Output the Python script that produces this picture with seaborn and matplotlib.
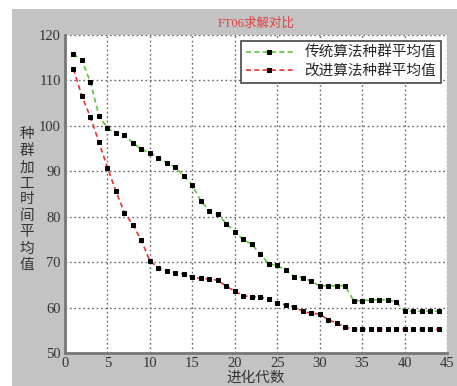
import numpy as np
import pandas as pd
import matplotlib
matplotlib.use("Agg")
import matplotlib.pyplot as plt
from matplotlib.patches import Rectangle
import seaborn as sns

generations = list(range(1, 45))
traditional = [115.8, 114.4, 109.6, 102.2, 99.5, 98.4, 97.9, 96.3, 94.8, 94.1,
               93.0, 91.9, 90.9, 88.9, 87.0, 83.5, 81.3, 80.5, 78.5, 76.6,
               75.0, 73.9, 71.8, 69.6, 69.3, 68.2, 66.8, 66.6, 65.8, 64.8,
               64.8, 64.8, 64.8, 61.5, 61.5, 61.7, 61.7, 61.7, 61.2, 59.2,
               59.2, 59.2, 59.2, 59.2]
improved = [112.5, 106.5, 101.9, 96.4, 90.8, 85.6, 80.9, 78.2, 74.8, 70.2,
            68.8, 68.1, 67.6, 67.4, 66.8, 66.4, 66.3, 66.0, 64.7, 63.6,
            62.6, 62.4, 62.3, 61.9, 60.9, 60.6, 60.1, 59.2, 58.7, 58.6,
            57.3, 56.6, 55.7, 55.2, 55.2, 55.2, 55.2, 55.2, 55.2, 55.2,
            55.2, 55.2, 55.2, 55.2]
labels = ["传统算法种群平均值", "改进算法种群平均值"]
colors = ["#5cc83c", "#f03030"]

sns.set_style("white")
plt.rcParams['font.family'] = ['Liberation Serif', 'Noto Sans CJK SC', 'DejaVu Sans']

fig = plt.figure(figsize=(4.57, 3.86), dpi=100, facecolor="white")
# gray panel behind the chart
bg = Rectangle((12 / 457, 0), 1, 1 - 9 / 386, transform=fig.transFigure,
               facecolor="#c3c3c3", edgecolor="none", zorder=-5)
fig.add_artist(bg)
ax = fig.add_axes([65 / 457, 1 - 353 / 386, 382 / 457, 318 / 386])
ax.set_zorder(2)
ax.set_facecolor("white")

for vals, lab, col in zip([traditional, improved], labels, colors):
    sns.lineplot(x=generations, y=vals, ax=ax, label=lab, color=col,
                 linestyle=(0, (3, 2)), linewidth=1.2, marker="s", markersize=3,
                 markerfacecolor="black", markeredgecolor="black")

ax.set_xlim(0, 45)
ax.set_ylim(50, 120)
ax.set_xticks(range(0, 46, 5))
ax.set_yticks(range(50, 121, 10))
ax.grid(True, color="#666666", linestyle=(0, (1.2, 2)), linewidth=1.0)
ax.tick_params(direction="in", length=2, labelsize=10.5, colors="#333333", pad=3)

for side in ["top", "right"]:
    ax.spines[side].set_visible(False)
for side in ["left", "bottom"]:
    ax.spines[side].set_color("#777777")
    ax.spines[side].set_linewidth(2)

ax.set_title("FT06求解对比", color="#e04040", fontsize=9, pad=6)
ax.set_xlabel("进化代数", fontsize=10.5, color="#333333", labelpad=1)
ax.set_ylabel("")
fig.text(27 / 457, 1 - 200 / 386, "\n".join("种群加工时间平均值"), ha="center", va="center",
         fontsize=10.5, color="#333333", linespacing=1.3)

leg = ax.legend(loc="upper right", fontsize=10.5, frameon=True, fancybox=False,
                borderaxespad=0.4, handlelength=3.2, labelspacing=0.3, borderpad=0.35,
                numpoints=1)
leg.get_frame().set_edgecolor("#444444")
leg.get_frame().set_linewidth(1.2)
leg.get_frame().set_alpha(1)

fig.savefig("out.png", dpi=100, facecolor=fig.get_facecolor())
